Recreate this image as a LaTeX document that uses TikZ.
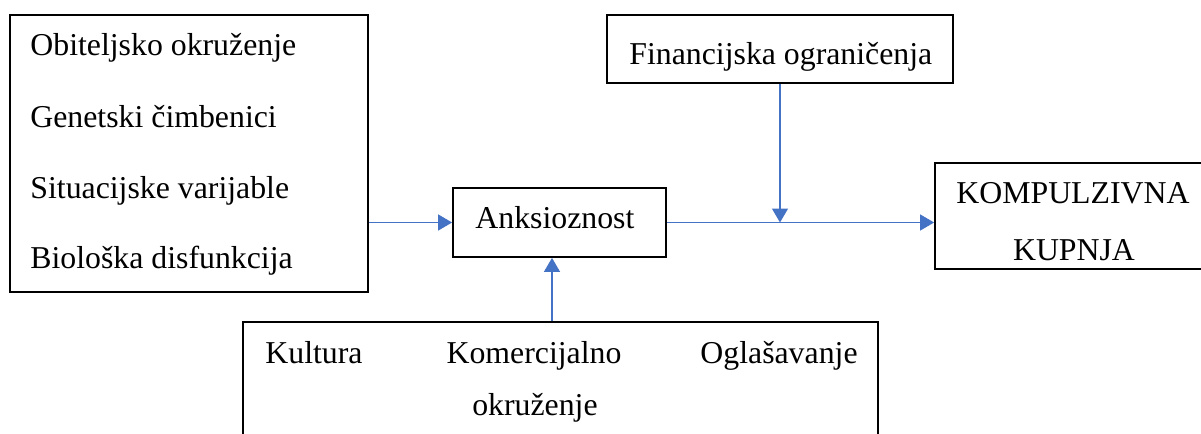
\documentclass[tikz,border=0pt]{standalone}
\usepackage{fontspec}
\setmainfont{Liberation Serif}
\usetikzlibrary{arrows.meta}
\definecolor{linkblue}{HTML}{4472C4}
\tikzset{
  px/.style={x=0.5pt,y=-0.5pt},
  box/.style={draw=black,line width=0.9pt,inner sep=0pt,rectangle},
  lbl/.style={inner sep=0pt,font=\fontsize{15.9pt}{19pt}\selectfont},
  conn/.style={draw=linkblue,line width=0.65pt,-{Triangle[length=7pt,width=8pt]}},
  plain/.style={draw=linkblue,line width=0.65pt}
}
\begin{document}
\begin{tikzpicture}[px]
\useasboundingbox (0,0) rectangle (1201,434);
\clip (0,0) rectangle (1201,434);
\fill[white] (0,0) rectangle (1201,434);
% boxes
\node[box,minimum width=179pt,minimum height=138.5pt] (left) at (189,153.5) {};
\node[box,minimum width=106.5pt,minimum height=34.5pt] (anks) at (559.5,222.5) {};
\node[box,minimum width=173pt,minimum height=34pt] (fin) at (780,49) {};
\node[box,minimum width=137.5pt,minimum height=53pt] (komp) at (1072.5,216) {};
\node[box,minimum width=317.5pt,minimum height=69pt] (bot) at (560.5,391) {};
% texts
\node[lbl,anchor=base west] (t1) at (30,55) {Obiteljsko okruženje};
\node[lbl,anchor=base west] (t2) at (30,127) {Genetski čimbenici};
\node[lbl,anchor=base west] (t3) at (30,198) {Situacijske varijable};
\node[lbl,anchor=base west] (t4) at (30,268) {Biološka disfunkcija};
\node[lbl,anchor=base west] (ta) at (475,228) {Anksioznost};
\node[lbl,anchor=base west] (tf) at (629,64) {Financijska ograničenja};
\node[lbl,anchor=base] (tk1) at (1073,203) {KOMPULZIVNA};
\node[lbl,anchor=base] (tk2) at (1074,260) {KUPNJA};
\node[lbl,anchor=base west] (tb1) at (265,363) {Kultura};
\node[lbl,anchor=base] (tb2) at (534,363) {Komercijalno};
\node[lbl,anchor=base east] (tb3) at (858,363) {Oglašavanje};
\node[lbl,anchor=base] (tb4) at (535,415) {okruženje};
% connectors
\draw[conn] (left.east |- anks.west) -- (anks.west);
\draw[conn] ([xshift=-3.75pt]anks.south |- bot.north) -- ([xshift=-3.75pt]anks.south);
\draw[conn] (anks.east) -- (komp.west |- anks.east);
\draw[conn] (fin.south) -- (fin.south |- anks.east);
\end{tikzpicture}
\end{document}
